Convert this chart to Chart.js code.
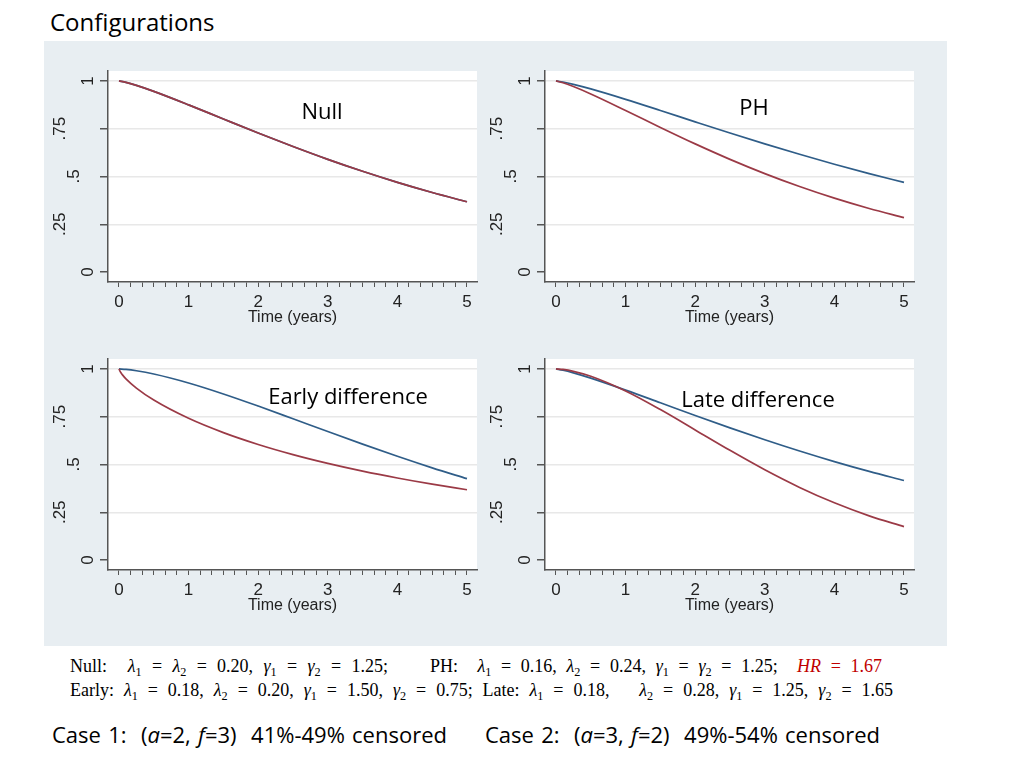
<!DOCTYPE html>
<html>
<head>
<meta charset="utf-8">
<script src="https://cdn.jsdelivr.net/npm/chart.js@4.4.1/dist/chart.umd.min.js"></script>
<style>
  body { margin:0; width:1024px; height:768px; background:#fff; position:relative; overflow:hidden; font-family:"Open Sans", sans-serif; color:#000; }
  #title { position:absolute; left:50px; top:6px; font-size:24px; line-height:32px; }
  #board { position:absolute; left:44px; top:41px; width:903px; height:605px; background:#e8eef2; }
  canvas { position:absolute; }
  .lbl { position:absolute; font-size:22px; line-height:1; transform:translate(-50%,-50%); white-space:nowrap; }
  .eq { position:absolute; font-family:"Liberation Serif", serif; font-size:18px; line-height:1.2; white-space:nowrap; transform:translateY(-50%); }
  .eq sub { font-size:0.68em; vertical-align:-0.3em; line-height:0; }
  .case { position:absolute; font-size:22px; line-height:1.2; white-space:nowrap; transform:translateY(-50%); }
</style>
</head>
<body>
<div id="title">Configurations</div>
<div id="board"></div>

<canvas id="cNull" width="440" height="300" style="left:44px;top:42px"></canvas>
<canvas id="cPH" width="440" height="300" style="left:481px;top:42px"></canvas>
<canvas id="cEarly" width="440" height="300" style="left:44px;top:330px"></canvas>
<canvas id="cLate" width="440" height="300" style="left:481px;top:330px"></canvas>

<div class="lbl" style="left:322px;top:110px">Null</div>
<div class="lbl" style="left:754px;top:106px">PH</div>
<div class="lbl" style="left:348px;top:395px">Early difference</div>
<div class="lbl" style="left:758px;top:398px">Late difference</div>

<div class="eq" data-w="318" style="left:70px;top:667px">Null:&nbsp; <i>λ</i><sub>1</sub> = <i>λ</i><sub>2</sub> = 0.20, <i>γ</i><sub>1</sub> = <i>γ</i><sub>2</sub> = 1.25;</div>
<div class="eq" data-w="452" style="left:430px;top:667px">PH:&nbsp; <i>λ</i><sub>1</sub> = 0.16, <i>λ</i><sub>2</sub> = 0.24, <i>γ</i><sub>1</sub> = <i>γ</i><sub>2</sub> = 1.25;&nbsp; <span style="color:#c00000"><i>HR</i> = 1.67</span></div>
<div class="eq" data-w="823" style="left:70px;top:691px">Early: <i>λ</i><sub>1</sub> = 0.18, <i>λ</i><sub>2</sub> = 0.20, <i>γ</i><sub>1</sub> = 1.50, <i>γ</i><sub>2</sub> = 0.75; Late: <i>λ</i><sub>1</sub> = 0.18, &nbsp; <i>λ</i><sub>2</sub> = 0.28, <i>γ</i><sub>1</sub> = 1.25, <i>γ</i><sub>2</sub> = 1.65</div>

<div class="case" data-w="395" style="left:52px;top:734px">Case 1:&nbsp; (<i>a</i>=2, <i>f</i>=3)&nbsp; 41%-49% censored</div>
<div class="case" data-w="395" style="left:485px;top:734px">Case 2:&nbsp; (<i>a</i>=3, <i>f</i>=2)&nbsp; 49%-54% censored</div>

<script>
// time points (years) for the survival curves
var timeGrid = [0, 0.1, 0.25, 0.5, 1, 1.5, 2, 2.5, 3, 3.5, 4, 4.5, 5];
var timeEarlyRed = [0, 0.02, 0.05, 0.1, 0.25, 0.5, 1, 1.5, 2, 2.5, 3, 3.5, 4, 4.5, 5];

// survival probabilities, group 1 (blue) and group 2 (red)
var nullS1 = [1, 0.9925, 0.9766, 0.9453, 0.8748, 0.8009, 0.7275, 0.6568, 0.5897, 0.5272, 0.4693, 0.4162, 0.3679];
var nullS2 = [1, 0.9925, 0.9766, 0.9453, 0.8748, 0.8009, 0.7275, 0.6568, 0.5897, 0.5272, 0.4693, 0.4162, 0.3679];
var phS1 = [1, 0.9943, 0.9823, 0.9584, 0.9038, 0.8454, 0.7861, 0.7275, 0.6706, 0.6161, 0.5642, 0.5152, 0.4693];
var phS2 = [1, 0.9906, 0.9707, 0.9318, 0.8454, 0.7567, 0.6706, 0.5897, 0.5152, 0.4475, 0.3866, 0.3325, 0.2848];
var earlyS1 = [1, 0.9976, 0.9905, 0.9734, 0.9265, 0.8691, 0.8057, 0.7394, 0.6725, 0.6065, 0.5428, 0.4824, 0.4258];
var earlyS2 = [1, 0.9842, 0.9689, 0.9482, 0.8997, 0.8371, 0.7415, 0.6667, 0.6047, 0.5518, 0.5058, 0.4652, 0.4292, 0.3969, 0.3679];
var lateS1 = [1, 0.9934, 0.9795, 0.9519, 0.8894, 0.8232, 0.7567, 0.6917, 0.6295, 0.5705, 0.5152, 0.4637, 0.4162];
var lateS2 = [1, 0.9973, 0.9876, 0.9618, 0.8848, 0.7874, 0.6810, 0.5740, 0.4724, 0.3802, 0.2995, 0.2313, 0.1752];

// axis ticks
var xMajorTicks = [0, 1, 2, 3, 4, 5];
var yTickValues = [0, 0.25, 0.5, 0.75, 1];
var yTickLabels = ['0', '.25', '.5', '.75', '1'];

var BLUE = '#2f5d88';
var RED = '#9b3a46';

// minor ticks every two months
var xTickValues = [];
for (var k = 0; k <= 30; k++) xTickValues.push(k / 6);

function toPoints(t, s) {
    return t.map(function (v, i) { return { x: v, y: s[i] }; });
}

// white plot region like Stata
var plotBg = {
    id: 'plotBg',
    beforeDraw: function (chart) {
        var a = chart.chartArea, ctx = chart.ctx;
        ctx.save();
        ctx.fillStyle = '#ffffff';
        ctx.fillRect(a.left, a.top, a.right - a.left, a.bottom - a.top);
        ctx.restore();
    }
};

// vertical y tick labels
var yLabels = {
    id: 'yLabels',
    afterDraw: function (chart) {
        var ys = chart.scales.y, ctx = chart.ctx, left = chart.chartArea.left;
        ctx.save();
        ctx.font = '17px "Liberation Sans", Arial, sans-serif';
        ctx.fillStyle = '#222';
        ctx.textAlign = 'center';
        ctx.textBaseline = 'middle';
        yTickValues.forEach(function (v, i) {
            var lab = yTickLabels[i];
            var cx = left - 20 - 14 * (lab.length - 1);
            ctx.save();
            ctx.translate(cx, ys.getPixelForValue(v));
            ctx.rotate(-Math.PI / 2);
            ctx.fillText(lab, 0, 0);
            ctx.restore();
        });
        ctx.restore();
    }
};

function renderPanel(id, t1, s1, t2, s2) {
    var ctx = document.getElementById(id).getContext('2d');
    return new Chart(ctx, {
        type: 'line',
        data: {
            datasets: [{
                data: toPoints(t1, s1),
                borderColor: BLUE,
                borderWidth: 1.7,
                pointRadius: 0,
                order: 2,
                cubicInterpolationMode: 'monotone'
            }, {
                data: toPoints(t2, s2),
                borderColor: RED,
                borderWidth: 1.7,
                pointRadius: 0,
                order: 1,
                cubicInterpolationMode: 'monotone'
            }]
        },
        options: {
            responsive: false,
            animation: false,
            events: [],
            layout: { padding: { top: 29, left: 0, right: 7, bottom: 12 } },
            plugins: { legend: { display: false }, tooltip: { enabled: false } },
            scales: {
                x: {
                    type: 'linear',
                    min: -0.158,
                    max: 5.144,
                    afterBuildTicks: function (s) { s.ticks = xTickValues.map(function (v) { return { value: v }; }); },
                    afterFit: function (s) { s.height = 48; },
                    ticks: {
                        autoSkip: false,
                        maxRotation: 0,
                        padding: 5,
                        color: '#222',
                        font: { family: '"Liberation Sans", Arial, sans-serif', size: 17 },
                        callback: function (v) {
                            return xMajorTicks.indexOf(v) >= 0 ? String(v) : '';
                        }
                    },
                    grid: { drawOnChartArea: false, drawTicks: true, tickLength: 5, color: '#555', lineWidth: 1 },
                    border: { display: true, color: '#555', width: 1.5 },
                    title: {
                        display: true,
                        text: 'Time (years)',
                        color: '#222',
                        font: { family: '"Liberation Sans", Arial, sans-serif', size: 16 },
                        padding: { top: 0, bottom: 3 }
                    }
                },
                y: {
                    type: 'linear',
                    min: -0.052,
                    max: 1.052,
                    afterBuildTicks: function (s) { s.ticks = yTickValues.map(function (v) { return { value: v }; }); },
                    afterFit: function (s) { s.width = 64; },
                    ticks: { display: false },
                    grid: {
                        color: function (c) { return c.tick && c.tick.value === 0 ? 'rgba(0,0,0,0)' : '#e8e8e8'; },
                        tickColor: '#555',
                        lineWidth: 1.5,
                        drawTicks: true,
                        tickLength: 8
                    },
                    border: { display: true, color: '#555', width: 1.5 }
                }
            }
        },
        plugins: [plotBg, yLabels]
    });
}

renderPanel('cNull', timeGrid, nullS1, timeGrid, nullS2);
renderPanel('cPH', timeGrid, phS1, timeGrid, phS2);
renderPanel('cEarly', timeGrid, earlyS1, timeEarlyRed, earlyS2);
renderPanel('cLate', timeGrid, lateS1, timeGrid, lateS2);

// spread text lines to the widths on the slide
document.querySelectorAll('[data-w]').forEach(function (el) {
    var target = parseFloat(el.getAttribute('data-w'));
    var spaces = (el.textContent.match(/[ \u00a0]/g) || []).length;
    var w = el.getBoundingClientRect().width;
    el.style.wordSpacing = ((target - w) / spaces) + 'px';
});
</script>
</body>
</html>
